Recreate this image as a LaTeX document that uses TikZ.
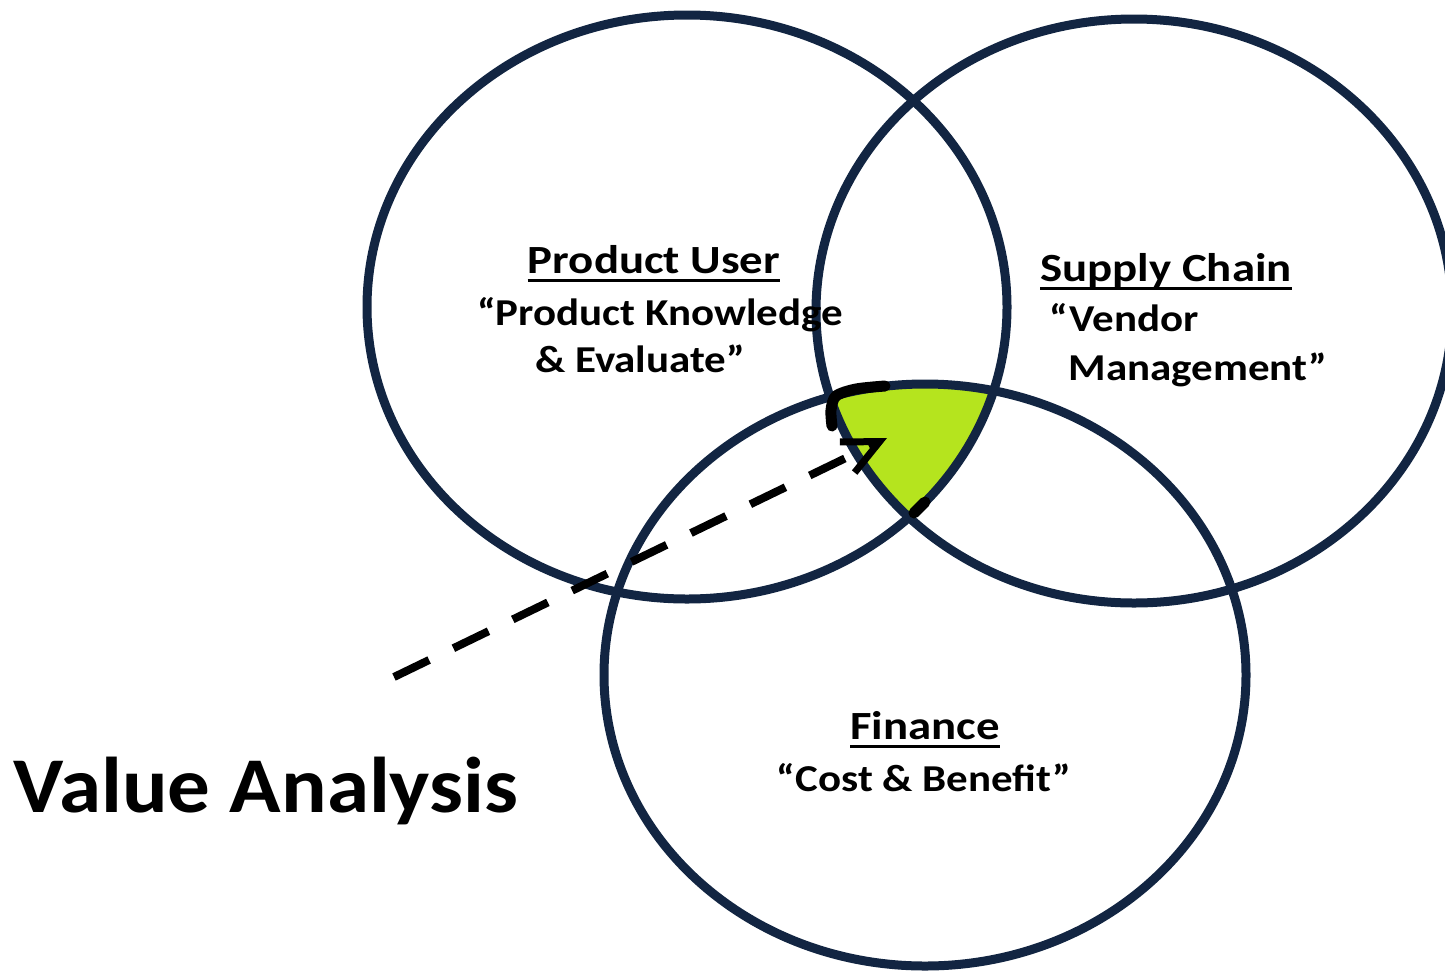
\documentclass[tikz,border=0pt]{standalone}
\usepackage{graphicx}
\usepackage{fontspec}
\setmainfont{Carlito}
\usetikzlibrary{arrows.meta}
\definecolor{navy}{RGB}{18,37,66}
\definecolor{vagreen}{RGB}{181,228,30}
\newcommand\widen[2]{\scalebox{#1}[1]{#2}}
\begin{document}
\begin{tikzpicture}[x=1pt,y=-1pt,
  ring/.style={draw=navy, line width=9pt},
  ttl/.style={font=\fontsize{40}{48}\selectfont\bfseries, inner sep=0pt, anchor=base},
  subl/.style={font=\fontsize{38}{46}\selectfont\bfseries, inner sep=0pt, anchor=base},
  uline/.style={line width=3pt, black},
  pointer/.style={black, line width=8pt, dash pattern=on 39pt off 27pt,
    -{Straight Barb[length=36pt, width=34pt, line width=7pt]}},
  blackedge/.style={black, line width=11pt, line cap=round, line join=round}]
\useasboundingbox (0,0) rectangle (1445,970);
% green common region
\begin{scope}
  \clip (687,307) ellipse [x radius=320, y radius=292];
  \clip (1134,311) ellipse [x radius=318, y radius=292];
  \fill[vagreen] (925,675) ellipse [x radius=321, y radius=291];
\end{scope}
% circles
\draw[ring] (687,307) ellipse [x radius=320, y radius=292];
\draw[ring] (1134,311) ellipse [x radius=318, y radius=292];
\draw[ring] (925,675) ellipse [x radius=321, y radius=291];
% black edge marks
\draw[blackedge] plot[smooth] coordinates {(885,386) (856,389) (836,396) (831,410) (832,426)};
\draw[blackedge] (914,513) -- (925,502);
% texts
\node[ttl] (pu) at (654,273) {\widen{1.17}{Product User}};
\draw[uline] ([yshift=-7pt]pu.base west) -- ([yshift=-7pt]pu.base east);
\node[subl] (pk) at (660,325) {\widen{1.13}{“Product Knowledge}};
\node[subl] (pe) at (640,372) {\widen{1.13}{\& Evaluate”}};
\node[ttl] (sc) at (1166,281) {\widen{1.17}{Supply Chain}};
\draw[uline] ([yshift=-7pt]sc.base west) -- ([yshift=-7pt]sc.base east);
\node[subl] (vd) at (1124,331) {\widen{1.13}{“Vendor}};
\node[subl] (mg) at (1198,380) {\widen{1.13}{Management”}};
\node[ttl] (fi) at (925,739) {\widen{1.17}{Finance}};
\draw[uline] ([yshift=-7pt]fi.base west) -- ([yshift=-7pt]fi.base east);
\node[subl] (cb) at (924,791) {\widen{1.13}{“Cost \& Benefit”}};
\node[font=\fontsize{79}{90}\selectfont\bfseries, inner sep=0pt, anchor=base] (va) at (266,812) {\widen{1.077}{Value Analysis}};
% pointer
\coordinate (ps) at (394,677);
\coordinate (pt) at (887,438);
\draw[pointer] (ps) -- (pt);
\end{tikzpicture}
\end{document}
